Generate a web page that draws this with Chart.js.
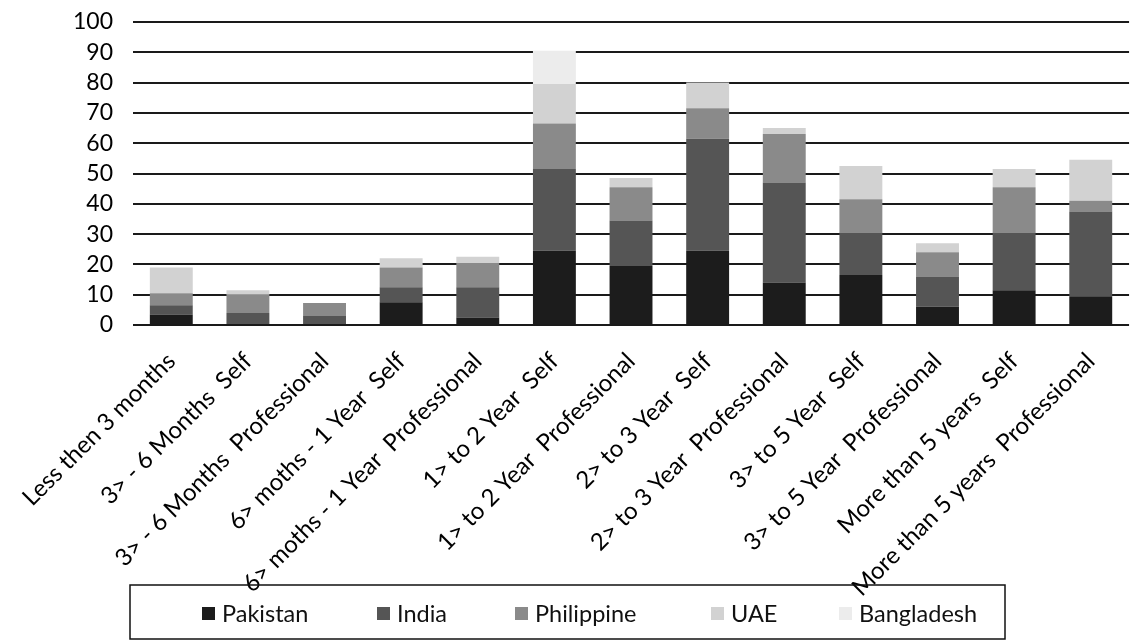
<!DOCTYPE html>
<html>
<head>
<meta charset="utf-8">
<script src="https://cdn.jsdelivr.net/npm/chart.js@4.4.1/dist/chart.umd.min.js"></script>
<style>
  html, body { margin: 0; padding: 0; background: #ffffff; }
  #wrap { width: 1133px; height: 641px; position: relative; }
</style>
</head>
<body>
<div id="wrap"><canvas id="c" width="1133" height="641"></canvas></div>
<script>
// Experience groups along the horizontal axis
const categories = [
  'Less then 3 months',
  '3> - 6 Months  Self',
  '3> - 6 Months  Professional',
  '6> moths - 1 Year  Self',
  '6> moths - 1 Year  Professional',
  '1> to 2 Year  Self',
  '1> to 2 Year  Professional',
  '2> to 3 Year  Self',
  '2> to 3 Year  Professional',
  '3> to 5 Year  Self',
  '3> to 5 Year  Professional',
  'More than 5 years  Self',
  'More than 5 years  Professional'
];

// Stacked counts per country
const pakistan   = [3.5, 0,   0,   7.5, 2.5, 24.5, 19.5, 24.5, 14,  16.5, 6,  11.5, 9.5];
const india      = [3,   4,   3,   5,   10,  27,   15,   37,   33,  14,   10, 19,   28];
const philippine = [4,   6,   4.3, 6.5, 8,   15,   11,   10,   16,  11,   8,  15,   3.5];
const uae        = [8.5, 1.5, 0,   3,   2,   13,   3,    8.5,  2,   11,   3,  6,    13.5];
const bangladesh = [0,   0,   0,   0,   0,   11,   0,    0,    0,   0,    0,  0,    0];

const seriesNames = ['Pakistan', 'India', 'Philippine', 'UAE', 'Bangladesh'];
const yTicks = [0, 10, 20, 30, 40, 50, 60, 70, 80, 90, 100];

const FONT = 'Lato, "Open Sans", sans-serif';

const fills = ['#1c1c1c', '#555555', '#8a8a8a', '#d2d2d2', '#ececec'];
const seriesValues = [pakistan, india, philippine, uae, bangladesh];

// Boxed legend below the plot
const boxLegend = {
  id: 'boxLegend',
  afterDraw(chart) {
    const ctx = chart.ctx;
    const x0 = 130, y0 = 585, x1 = 1005, y1 = 639;
    ctx.save();
    ctx.strokeStyle = '#111';
    ctx.lineWidth = 1.5;
    ctx.strokeRect(x0, y0, x1 - x0, y1 - y0);
    ctx.font = '23.5px ' + FONT;
    ctx.textBaseline = 'middle';
    ctx.textAlign = 'left';
    const cy = 614;
    const markerX = [202, 377, 515, 711, 839];
    chart.data.datasets.forEach((ds, i) => {
      ctx.fillStyle = ds.backgroundColor;
      ctx.fillRect(markerX[i], cy - 7, 13, 13);
      ctx.fillStyle = '#111';
      ctx.fillText(ds.label, markerX[i] + 20, cy);
    });
    ctx.restore();
  }
};

new Chart(document.getElementById('c'), {
  type: 'bar',
  data: {
    labels: categories,
    datasets: seriesNames.map((name, i) => ({
      label: name,
      data: seriesValues[i],
      backgroundColor: fills[i],
      borderWidth: 0,
      categoryPercentage: 1.0,
      barPercentage: 0.56
    }))
  },
  options: {
    responsive: false,
    animation: false,
    devicePixelRatio: 1,
    layout: { padding: { top: 0, right: 2, left: 0, bottom: 0 } },
    plugins: {
      legend: { display: false },
      tooltip: { enabled: false }
    },
    scales: {
      x: {
        stacked: true,
        grid: { display: false, drawTicks: false },
        border: { display: false },
        ticks: {
          color: '#000',
          font: { family: FONT, size: 24 },
          maxRotation: 45,
          minRotation: 45,
          autoSkip: false,
          padding: 22
        },
        afterFit(scale) { scale.height = 316; }
      },
      y: {
        stacked: true,
        min: 0,
        max: 100,
        afterBuildTicks(scale) { scale.ticks = yTicks.map(v => ({ value: v })); },
        grid: { color: '#1a1a1a', lineWidth: 2, drawTicks: false },
        border: { display: false },
        ticks: {
          color: '#000',
          font: { family: FONT, size: 23 },
          padding: 20,
          autoSkip: false
        },
        afterFit(scale) {
          scale.width = 128;
          scale.paddingTop = 22;
        }
      }
    }
  },
  plugins: [boxLegend]
});
</script>
</body>
</html>
